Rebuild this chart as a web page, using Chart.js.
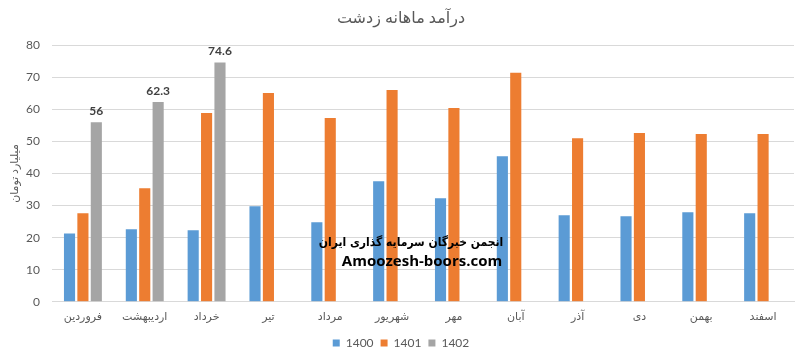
<!DOCTYPE html>
<html>
<head>
<meta charset="utf-8">
<script src="https://cdn.jsdelivr.net/npm/chart.js@4.4.1/dist/chart.umd.min.js"></script>
<style>
html,body{margin:0;padding:0;background:#fff;}
#wrap{width:804px;height:363px;position:relative;}
</style>
</head>
<body>
<div id="wrap"><canvas id="c" width="804" height="363"></canvas></div>
<script>
const categories = ['فروردین','اردیبهشت','خرداد','تیر','مرداد','شهریور','مهر','آبان','آذر','دی','بهمن','اسفند'];
const series1400 = [21.3, 22.6, 22.3, 29.8, 24.8, 37.6, 32.3, 45.4, 27.0, 26.7, 27.9, 27.6];
const series1401 = [27.6, 35.4, 58.9, 65.1, 57.3, 66.0, 60.4, 71.4, 51.0, 52.6, 52.3, 52.3];
const series1402 = [56, 62.3, 74.6, null, null, null, null, null, null, null, null, null];
const seriesNames = ['1400', '1401', '1402'];
const yTicks = [0, 10, 20, 30, 40, 50, 60, 70, 80];

const FONT = "Lato, 'DejaVu Sans', sans-serif";
const GREY = '#595959';

const labelPlugin = {
  id: 'labels1402',
  afterDatasetsDraw(chart) {
    const ctx = chart.ctx;
    const meta = chart.getDatasetMeta(2);
    ctx.save();
    ctx.font = "bold 12px " + FONT;
    ctx.fillStyle = '#404040';
    ctx.textAlign = 'center';
    ctx.textBaseline = 'bottom';
    meta.data.forEach((bar, i) => {
      const v = series1402[i];
      if (v === null) return;
      ctx.fillText(String(v), bar.x, bar.y - 5);
    });
    ctx.restore();
  }
};

const watermarkPlugin = {
  id: 'watermark',
  afterDatasetsDraw(chart) {
    const ctx = chart.ctx;
    ctx.save();
    ctx.fillStyle = '#000';
    ctx.textAlign = 'center';
    ctx.textBaseline = 'middle';
    ctx.font = "bold 12px 'DejaVu Sans Condensed', 'DejaVu Sans', sans-serif";
    ctx.fillText('انجمن خبرگان سرمایه گذاری ایران', 411, 243);
    ctx.font = "bold 15px 'Open Sans', sans-serif";
    ctx.fillText('Amoozesh-boors.com', 422, 262);
    ctx.restore();
  }
};

new Chart(document.getElementById('c'), {
  type: 'bar',
  data: {
    labels: categories,
    datasets: [
      { label: seriesNames[0], data: series1400, backgroundColor: '#5b9bd5' },
      { label: seriesNames[1], data: series1401, backgroundColor: '#ed7d31' },
      { label: seriesNames[2], data: series1402, backgroundColor: '#a5a5a5' }
    ]
  },
  options: {
    responsive: false,
    animation: false,
    devicePixelRatio: 1,
    layout: { padding: { left: 8, right: 10, top: 0, bottom: 4 } },
    datasets: { bar: { categoryPercentage: 0.65, barPercentage: 0.83 } },
    plugins: {
      title: {
        display: true,
        text: 'درآمد ماهانه زدشت',
        color: GREY,
        font: { family: FONT, size: 16, weight: 'normal' },
        padding: { top: 8, bottom: 18 }
      },
      legend: {
        position: 'bottom',
        labels: {
          color: GREY,
          font: { family: FONT, size: 12 },
          boxWidth: 7, boxHeight: 7, padding: 7
        }
      },
      tooltip: { enabled: false }
    },
    scales: {
      x: {
        grid: { display: false },
        border: { color: '#d9d9d9' },
        afterFit(axis) { axis.height += 7; },
        ticks: { color: GREY, font: { family: FONT, size: 11 }, padding: 0, maxRotation: 0 }
      },
      y: {
        min: 0, max: 80,
        afterBuildTicks(axis) { axis.ticks = yTicks.map(v => ({ value: v })); },
        afterFit(axis) { axis.width = 44; },
        grid: { color: '#d9d9d9', drawTicks: false },
        border: { display: false },
        ticks: { color: GREY, font: { family: FONT, size: 12 }, padding: 12 },
        title: {
          display: true,
          text: 'میلیارد تومان',
          color: GREY,
          font: { family: FONT, size: 11 },
          padding: { top: 0, bottom: 0 }
        }
      }
    }
  },
  plugins: [labelPlugin, watermarkPlugin]
});
</script>
</body>
</html>
